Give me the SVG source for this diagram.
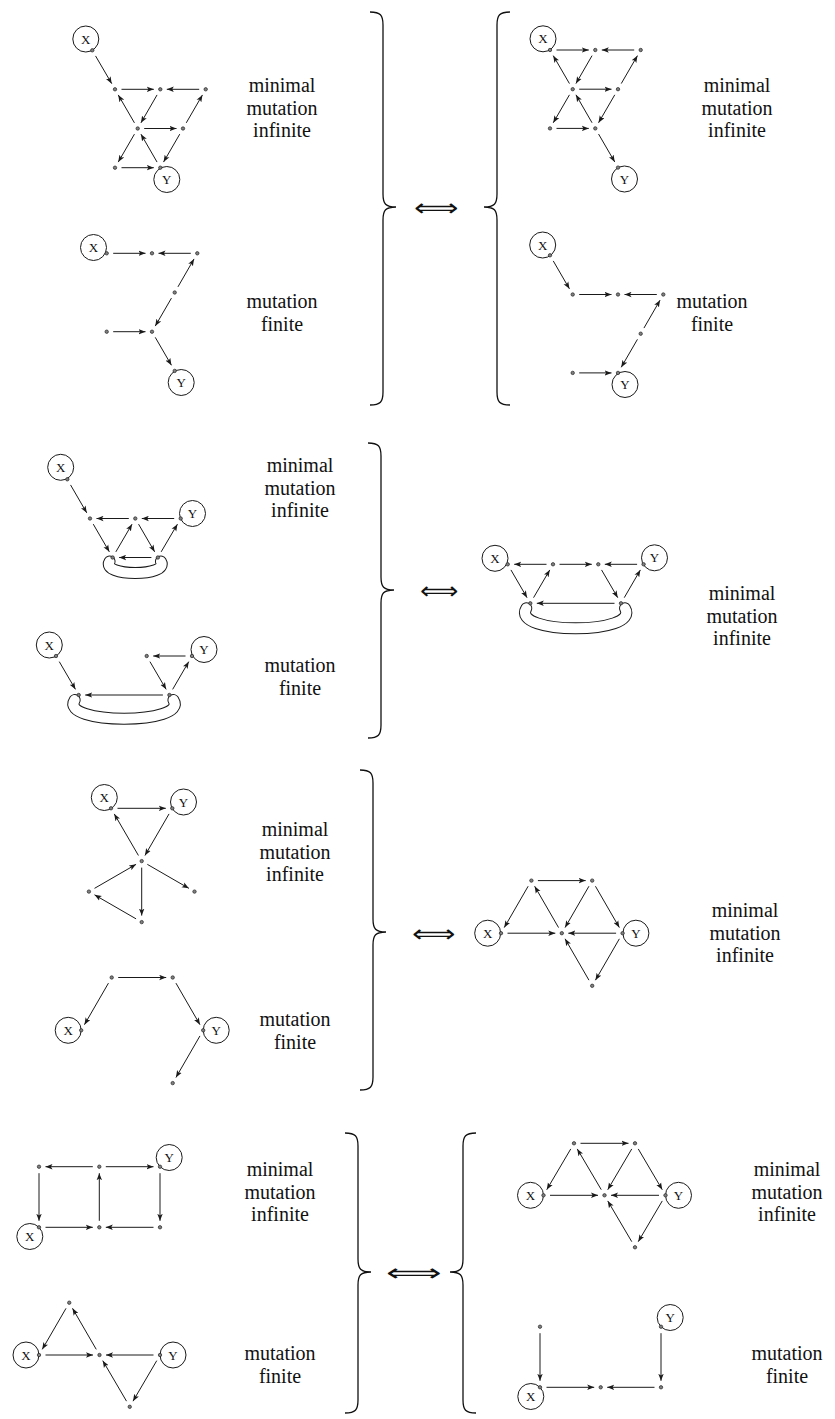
<svg xmlns="http://www.w3.org/2000/svg" width="835" height="1419" viewBox="0 0 835 1419">
<style>
.e{stroke:#1a1a1a;stroke-width:1;fill:none;marker-end:url(#ah)}
.d{fill:#808080;stroke:#222;stroke-width:0.7}
.c{fill:none;stroke:#1a1a1a;stroke-width:1}
.lbl{font-family:'Liberation Serif',serif;font-size:13px;text-anchor:middle;fill:#111}
.t{font-family:'Liberation Serif',serif;font-size:20px;text-anchor:middle;fill:#111}
.br{fill:none;stroke:#111;stroke-width:1.3}
.bo{fill:none;stroke:#1a1a1a;stroke-width:12;stroke-linecap:round}
.bi{fill:none;stroke:#fff;stroke-width:10;stroke-linecap:round}
.arr{font-family:'DejaVu Sans',sans-serif;font-weight:200;font-size:24px;text-anchor:middle;fill:#111}
</style>
<defs>
<marker id="ah" markerWidth="8" markerHeight="6" refX="7" refY="3" orient="auto" markerUnits="userSpaceOnUse"><path d="M0,0.3 L7,3 L0,5.7 L1.6,3 Z" fill="#1a1a1a"/></marker>
</defs>
<rect width="835" height="1419" fill="#fff"/>

<g id="connectors">
<!-- s1a -->
<line class="e" x1="95.55" y1="55.93" x2="111.75" y2="83.67"/>
<line class="e" x1="121.5" y1="89.3" x2="153.8" y2="89.3"/>
<line class="e" x1="199.2" y1="89.3" x2="166.8" y2="89.3"/>
<line class="e" x1="157.05" y1="94.93" x2="140.95" y2="122.87"/>
<line class="e" x1="134.45" y1="122.87" x2="118.25" y2="94.93"/>
<line class="e" x1="144.2" y1="128.5" x2="176.5" y2="128.5"/>
<line class="e" x1="186.25" y1="122.87" x2="202.45" y2="94.93"/>
<line class="e" x1="134.45" y1="134.13" x2="118.25" y2="162.07"/>
<line class="e" x1="121.5" y1="167.7" x2="153.8" y2="167.7"/>
<line class="e" x1="157.05" y1="162.07" x2="140.95" y2="134.13"/>
<line class="e" x1="179.75" y1="134.13" x2="163.55" y2="162.07"/>
<!-- s1b -->
<line class="e" x1="113.2" y1="253.3" x2="145.5" y2="253.3"/>
<line class="e" x1="190.8" y1="253.3" x2="158.5" y2="253.3"/>
<line class="e" x1="177.95" y1="286.87" x2="194.05" y2="258.93"/>
<line class="e" x1="171.45" y1="298.13" x2="155.25" y2="326.07"/>
<line class="e" x1="113.2" y1="331.7" x2="145.5" y2="331.7"/>
<line class="e" x1="155.25" y1="337.33" x2="171.45" y2="365.27"/>
<!-- s1c -->
<line class="e" x1="556.5" y1="50" x2="588.8" y2="50"/>
<line class="e" x1="634.2" y1="50" x2="601.8" y2="50"/>
<line class="e" x1="592.05" y1="55.63" x2="575.95" y2="83.57"/>
<line class="e" x1="569.45" y1="83.57" x2="553.25" y2="55.63"/>
<line class="e" x1="579.2" y1="89.2" x2="611.5" y2="89.2"/>
<line class="e" x1="621.25" y1="83.57" x2="637.45" y2="55.63"/>
<line class="e" x1="569.45" y1="94.83" x2="553.25" y2="122.77"/>
<line class="e" x1="556.5" y1="128.4" x2="588.8" y2="128.4"/>
<line class="e" x1="592.05" y1="122.77" x2="575.95" y2="94.83"/>
<line class="e" x1="614.75" y1="94.83" x2="598.55" y2="122.77"/>
<line class="e" x1="598.55" y1="134.03" x2="614.75" y2="161.97"/>
<!-- s1d -->
<line class="e" x1="553.25" y1="260.93" x2="569.45" y2="288.87"/>
<line class="e" x1="579.2" y1="294.5" x2="611.5" y2="294.5"/>
<line class="e" x1="656.8" y1="294.5" x2="624.5" y2="294.5"/>
<line class="e" x1="643.95" y1="328.07" x2="660.05" y2="300.13"/>
<line class="e" x1="637.45" y1="339.33" x2="621.25" y2="367.27"/>
<line class="e" x1="579.2" y1="372.9" x2="611.5" y2="372.9"/>
<!-- s2a -->
<path class="bo" d="M109.6,561.5 C100.6,576.8 169.9,576.8 160.9,561.5"/>
<path class="bi" d="M109.6,561.5 C100.6,576.8 169.9,576.8 160.9,561.5"/>
<line class="e" x1="70.55" y1="484.93" x2="86.75" y2="512.87"/>
<line class="e" x1="128.8" y1="518.5" x2="96.5" y2="518.5"/>
<line class="e" x1="174.2" y1="518.5" x2="141.8" y2="518.5"/>
<line class="e" x1="93.25" y1="524.13" x2="109.35" y2="551.87"/>
<line class="e" x1="115.85" y1="551.87" x2="132.05" y2="524.13"/>
<line class="e" x1="138.55" y1="524.13" x2="154.65" y2="551.87"/>
<line class="e" x1="161.15" y1="551.87" x2="177.45" y2="524.13"/>
<line class="e" x1="151.4" y1="557.5" x2="119.1" y2="557.5"/>
<!-- s2b -->
<path class="bo" d="M74.7,700 C58.7,725 189.4,725 173.4,700"/>
<path class="bi" d="M74.7,700 C58.7,725 189.4,725 173.4,700"/>
<line class="e" x1="59.25" y1="661.63" x2="75.45" y2="689.37"/>
<line class="e" x1="185.5" y1="656" x2="153.2" y2="656"/>
<line class="e" x1="149.95" y1="661.63" x2="166.15" y2="689.37"/>
<line class="e" x1="172.65" y1="689.37" x2="188.75" y2="661.63"/>
<line class="e" x1="162.9" y1="695" x2="85.2" y2="695"/>
<!-- s2c -->
<path class="bo" d="M526.3,608.3 C510.3,635 641,635 625,608.3"/>
<path class="bi" d="M526.3,608.3 C510.3,635 641,635 625,608.3"/>
<line class="e" x1="546.5" y1="564.3" x2="514.2" y2="564.3"/>
<line class="e" x1="559.5" y1="564.3" x2="591.8" y2="564.3"/>
<line class="e" x1="637.1" y1="564.3" x2="604.8" y2="564.3"/>
<line class="e" x1="510.95" y1="569.93" x2="527.05" y2="597.67"/>
<line class="e" x1="533.55" y1="597.67" x2="549.75" y2="569.93"/>
<line class="e" x1="601.55" y1="569.93" x2="617.75" y2="597.67"/>
<line class="e" x1="624.25" y1="597.67" x2="640.35" y2="569.93"/>
<line class="e" x1="614.5" y1="603.3" x2="536.8" y2="603.3"/>
<!-- s3a -->
<line class="e" x1="117.5" y1="808.3" x2="165.8" y2="808.3"/>
<line class="e" x1="138.43" y1="855.48" x2="114.27" y2="813.92"/>
<line class="e" x1="169.04" y1="813.92" x2="144.96" y2="855.48"/>
<line class="e" x1="94.53" y1="888.35" x2="136.07" y2="864.35"/>
<line class="e" x1="147.33" y1="864.35" x2="188.87" y2="888.35"/>
<line class="e" x1="141.7" y1="867.6" x2="141.7" y2="915.6"/>
<line class="e" x1="136.07" y1="918.85" x2="94.53" y2="894.85"/>
<!-- s3b -->
<line class="e" x1="108.45" y1="983.13" x2="84.45" y2="1024.67"/>
<line class="e" x1="118.2" y1="977.5" x2="166.2" y2="977.5"/>
<line class="e" x1="175.95" y1="983.13" x2="199.95" y2="1024.67"/>
<line class="e" x1="199.95" y1="1035.93" x2="175.95" y2="1077.47"/>
<!-- s3c -->
<line class="e" x1="537.9" y1="880.6" x2="585.7" y2="880.6"/>
<line class="e" x1="528.15" y1="886.23" x2="504.25" y2="927.57"/>
<line class="e" x1="558.55" y1="927.57" x2="534.65" y2="886.23"/>
<line class="e" x1="588.95" y1="886.23" x2="565.05" y2="927.57"/>
<line class="e" x1="595.45" y1="886.23" x2="619.35" y2="927.57"/>
<line class="e" x1="507.5" y1="933.2" x2="555.3" y2="933.2"/>
<line class="e" x1="616.1" y1="933.2" x2="568.3" y2="933.2"/>
<line class="e" x1="619.35" y1="938.83" x2="595.45" y2="980.17"/>
<line class="e" x1="588.95" y1="980.17" x2="565.05" y2="938.83"/>
<!-- s4a -->
<line class="e" x1="92.8" y1="1166.7" x2="45.5" y2="1166.7"/>
<line class="e" x1="105.8" y1="1166.7" x2="153.5" y2="1166.7"/>
<line class="e" x1="39" y1="1173.2" x2="39" y2="1220.8"/>
<line class="e" x1="99.3" y1="1220.8" x2="99.3" y2="1173.2"/>
<line class="e" x1="160" y1="1173.2" x2="160" y2="1220.8"/>
<line class="e" x1="45.5" y1="1227.3" x2="92.8" y2="1227.3"/>
<line class="e" x1="153.5" y1="1227.3" x2="105.8" y2="1227.3"/>
<!-- s4b -->
<line class="e" x1="66" y1="1308.33" x2="42.25" y2="1349.37"/>
<line class="e" x1="96.25" y1="1349.37" x2="72.5" y2="1308.33"/>
<line class="e" x1="45.5" y1="1355" x2="93" y2="1355"/>
<line class="e" x1="153.5" y1="1355" x2="106" y2="1355"/>
<line class="e" x1="156.75" y1="1360.63" x2="133" y2="1401.17"/>
<line class="e" x1="126.5" y1="1401.17" x2="102.75" y2="1360.63"/>
<!-- s4c -->
<line class="e" x1="580.5" y1="1143.3" x2="628.5" y2="1143.3"/>
<line class="e" x1="570.75" y1="1148.93" x2="546.75" y2="1189.67"/>
<line class="e" x1="601.25" y1="1189.67" x2="577.25" y2="1148.93"/>
<line class="e" x1="631.75" y1="1148.93" x2="607.75" y2="1189.67"/>
<line class="e" x1="638.25" y1="1148.93" x2="662.25" y2="1189.67"/>
<line class="e" x1="550" y1="1195.3" x2="598" y2="1195.3"/>
<line class="e" x1="659" y1="1195.3" x2="611" y2="1195.3"/>
<line class="e" x1="662.25" y1="1200.93" x2="638.25" y2="1241.67"/>
<line class="e" x1="631.75" y1="1241.67" x2="607.75" y2="1200.93"/>
<!-- s4d -->
<line class="e" x1="540" y1="1333.2" x2="540" y2="1380.8"/>
<line class="e" x1="661" y1="1333.2" x2="661" y2="1380.8"/>
<line class="e" x1="546.5" y1="1387.3" x2="594.2" y2="1387.3"/>
<line class="e" x1="654.5" y1="1387.3" x2="607.2" y2="1387.3"/>
</g>

<!-- Section 1 left upper -->
<g id="s1a-X"><circle class="c" cx="85.8" cy="39" r="13"/><text class="lbl" x="85.8" y="43.5">X</text><circle class="d" cx="92.3" cy="50.3" r="1.7"/></g>
<g id="s1a-A"><circle class="d" cx="115" cy="89.3" r="1.7"/></g>
<g id="s1a-B"><circle class="d" cx="160.3" cy="89.3" r="1.7"/></g>
<g id="s1a-C"><circle class="d" cx="205.7" cy="89.3" r="1.7"/></g>
<g id="s1a-D"><circle class="d" cx="137.7" cy="128.5" r="1.7"/></g>
<g id="s1a-E"><circle class="d" cx="183" cy="128.5" r="1.7"/></g>
<g id="s1a-F"><circle class="d" cx="115" cy="167.7" r="1.7"/></g>
<g id="s1a-Y"><circle class="c" cx="166.8" cy="179.5" r="13"/><text class="lbl" x="166.8" y="184">Y</text><circle class="d" cx="160.3" cy="167.7" r="1.7"/></g>

<!-- Section 1 left lower -->
<g id="s1b-X"><circle class="c" cx="93.5" cy="247.5" r="13"/><text class="lbl" x="93.5" y="252">X</text><circle class="d" cx="106.7" cy="253.3" r="1.7"/></g>
<g id="s1b-B"><circle class="d" cx="152" cy="253.3" r="1.7"/></g>
<g id="s1b-C"><circle class="d" cx="197.3" cy="253.3" r="1.7"/></g>
<g id="s1b-D"><circle class="d" cx="174.7" cy="292.5" r="1.7"/></g>
<g id="s1b-E"><circle class="d" cx="106.7" cy="331.7" r="1.7"/></g>
<g id="s1b-F"><circle class="d" cx="152" cy="331.7" r="1.7"/></g>
<g id="s1b-Y"><circle class="c" cx="181.2" cy="382.5" r="13"/><text class="lbl" x="181.2" y="387">Y</text><circle class="d" cx="174.7" cy="370.9" r="1.7"/></g>

<!-- Section 1 right upper -->
<g id="s1c-X"><circle class="c" cx="543" cy="38.8" r="13"/><text class="lbl" x="543" y="43.3">X</text><circle class="d" cx="550" cy="50" r="1.7"/></g>
<g id="s1c-B"><circle class="d" cx="595.3" cy="50" r="1.7"/></g>
<g id="s1c-C"><circle class="d" cx="640.7" cy="50" r="1.7"/></g>
<g id="s1c-D"><circle class="d" cx="572.7" cy="89.2" r="1.7"/></g>
<g id="s1c-E"><circle class="d" cx="618" cy="89.2" r="1.7"/></g>
<g id="s1c-F"><circle class="d" cx="550" cy="128.4" r="1.7"/></g>
<g id="s1c-G"><circle class="d" cx="595.3" cy="128.4" r="1.7"/></g>
<g id="s1c-Y"><circle class="c" cx="624.5" cy="179" r="13"/><text class="lbl" x="624.5" y="183.5">Y</text><circle class="d" cx="618" cy="167.6" r="1.7"/></g>

<!-- Section 1 right lower -->
<g id="s1d-X"><circle class="c" cx="542.7" cy="245" r="13"/><text class="lbl" x="542.7" y="249.5">X</text><circle class="d" cx="550" cy="255.3" r="1.7"/></g>
<g id="s1d-A"><circle class="d" cx="572.7" cy="294.5" r="1.7"/></g>
<g id="s1d-B"><circle class="d" cx="618" cy="294.5" r="1.7"/></g>
<g id="s1d-C"><circle class="d" cx="663.3" cy="294.5" r="1.7"/></g>
<g id="s1d-D"><circle class="d" cx="640.7" cy="333.7" r="1.7"/></g>
<g id="s1d-E"><circle class="d" cx="572.7" cy="372.9" r="1.7"/></g>
<g id="s1d-Y"><circle class="c" cx="625" cy="384.5" r="13"/><text class="lbl" x="625" y="389">Y</text><circle class="d" cx="618" cy="372.9" r="1.7"/></g>

<!-- Section 2 left upper -->
<g id="s2a-X"><circle class="c" cx="60.7" cy="467.3" r="13"/><text class="lbl" x="60.7" y="471.8">X</text><circle class="d" cx="67.3" cy="479.3" r="1.7"/></g>
<g id="s2a-A"><circle class="d" cx="90" cy="518.5" r="1.7"/></g>
<g id="s2a-B"><circle class="d" cx="135.3" cy="518.5" r="1.7"/></g>
<g id="s2a-C"><circle class="d" cx="112.6" cy="557.5" r="1.7"/></g>
<g id="s2a-D"><circle class="d" cx="157.9" cy="557.5" r="1.7"/></g>
<g id="s2a-Y"><circle class="c" cx="192.5" cy="513.5" r="13"/><text class="lbl" x="192.5" y="518">Y</text><circle class="d" cx="180.7" cy="518.5" r="1.7"/></g>

<!-- Section 2 left lower -->
<g id="s2b-X"><circle class="c" cx="49.3" cy="645" r="13"/><text class="lbl" x="49.3" y="649.5">X</text><circle class="d" cx="56" cy="656" r="1.7"/></g>
<g id="s2b-A"><circle class="d" cx="146.7" cy="656" r="1.7"/></g>
<g id="s2b-C"><circle class="d" cx="78.7" cy="695" r="1.7"/></g>
<g id="s2b-D"><circle class="d" cx="169.4" cy="695" r="1.7"/></g>
<g id="s2b-Y"><circle class="c" cx="204" cy="649.5" r="13"/><text class="lbl" x="204" y="654">Y</text><circle class="d" cx="192" cy="656" r="1.7"/></g>

<!-- Section 2 right -->
<g id="s2c-X"><circle class="c" cx="495" cy="558.3" r="13"/><text class="lbl" x="495" y="562.8">X</text><circle class="d" cx="507.7" cy="564.3" r="1.7"/></g>
<g id="s2c-A"><circle class="d" cx="553" cy="564.3" r="1.7"/></g>
<g id="s2c-B"><circle class="d" cx="598.3" cy="564.3" r="1.7"/></g>
<g id="s2c-C"><circle class="d" cx="530.3" cy="603.3" r="1.7"/></g>
<g id="s2c-D"><circle class="d" cx="621" cy="603.3" r="1.7"/></g>
<g id="s2c-Y"><circle class="c" cx="654.5" cy="557.8" r="13"/><text class="lbl" x="654.5" y="562.3">Y</text><circle class="d" cx="643.6" cy="564.3" r="1.7"/></g>

<!-- Section 3 left upper -->
<g id="s3a-X"><circle class="c" cx="104.3" cy="797.5" r="13"/><text class="lbl" x="104.3" y="802">X</text><circle class="d" cx="111" cy="808.3" r="1.7"/></g>
<g id="s3a-Y"><circle class="c" cx="183.5" cy="802" r="13"/><text class="lbl" x="183.5" y="806.5">Y</text><circle class="d" cx="172.3" cy="808.3" r="1.7"/></g>
<g id="s3a-O"><circle class="d" cx="141.7" cy="861.1" r="1.7"/></g>
<g id="s3a-L"><circle class="d" cx="88.9" cy="891.6" r="1.7"/></g>
<g id="s3a-R"><circle class="d" cx="194.5" cy="891.6" r="1.7"/></g>
<g id="s3a-B"><circle class="d" cx="141.7" cy="922.1" r="1.7"/></g>

<!-- Section 3 left lower -->
<g id="s3b-A"><circle class="d" cx="111.7" cy="977.5" r="1.7"/></g>
<g id="s3b-B"><circle class="d" cx="172.7" cy="977.5" r="1.7"/></g>
<g id="s3b-X"><circle class="c" cx="68.2" cy="1030.3" r="13"/><text class="lbl" x="68.2" y="1034.8">X</text><circle class="d" cx="81.2" cy="1030.3" r="1.7"/></g>
<g id="s3b-Y"><circle class="c" cx="216.2" cy="1030.3" r="13"/><text class="lbl" x="216.2" y="1034.8">Y</text><circle class="d" cx="203.2" cy="1030.3" r="1.7"/></g>
<g id="s3b-C"><circle class="d" cx="172.7" cy="1083.1" r="1.7"/></g>

<!-- Section 3 right -->
<g id="s3c-A"><circle class="d" cx="531.4" cy="880.6" r="1.7"/></g>
<g id="s3c-B"><circle class="d" cx="592.2" cy="880.6" r="1.7"/></g>
<g id="s3c-X"><circle class="c" cx="487.7" cy="933.2" r="13"/><text class="lbl" x="487.7" y="937.7">X</text><circle class="d" cx="501" cy="933.2" r="1.7"/></g>
<g id="s3c-O"><circle class="d" cx="561.8" cy="933.2" r="1.7"/></g>
<g id="s3c-Y"><circle class="c" cx="635.9" cy="933.2" r="13"/><text class="lbl" x="635.9" y="937.7">Y</text><circle class="d" cx="622.6" cy="933.2" r="1.7"/></g>
<g id="s3c-Bot"><circle class="d" cx="592.2" cy="985.8" r="1.7"/></g>

<!-- Section 4 left upper -->
<g id="s4a-A"><circle class="d" cx="39" cy="1166.7" r="1.7"/></g>
<g id="s4a-B"><circle class="d" cx="99.3" cy="1166.7" r="1.7"/></g>
<g id="s4a-Y"><circle class="c" cx="169.2" cy="1157.5" r="13"/><text class="lbl" x="169.2" y="1162">Y</text><circle class="d" cx="160" cy="1166.7" r="1.7"/></g>
<g id="s4a-X"><circle class="c" cx="29.8" cy="1236.5" r="13"/><text class="lbl" x="29.8" y="1241">X</text><circle class="d" cx="39" cy="1227.3" r="1.7"/></g>
<g id="s4a-E"><circle class="d" cx="99.3" cy="1227.3" r="1.7"/></g>
<g id="s4a-F"><circle class="d" cx="160" cy="1227.3" r="1.7"/></g>

<!-- Section 4 left lower -->
<g id="s4b-T"><circle class="d" cx="69.25" cy="1302.7" r="1.7"/></g>
<g id="s4b-X"><circle class="c" cx="26" cy="1355" r="13"/><text class="lbl" x="26" y="1359.5">X</text><circle class="d" cx="39" cy="1355" r="1.7"/></g>
<g id="s4b-O"><circle class="d" cx="99.5" cy="1355" r="1.7"/></g>
<g id="s4b-Y"><circle class="c" cx="173" cy="1355" r="13"/><text class="lbl" x="173" y="1359.5">Y</text><circle class="d" cx="160" cy="1355" r="1.7"/></g>
<g id="s4b-Bot"><circle class="d" cx="129.75" cy="1406.8" r="1.7"/></g>

<!-- Section 4 right upper -->
<g id="s4c-A"><circle class="d" cx="574" cy="1143.3" r="1.7"/></g>
<g id="s4c-B"><circle class="d" cx="635" cy="1143.3" r="1.7"/></g>
<g id="s4c-X"><circle class="c" cx="530.5" cy="1195.3" r="13"/><text class="lbl" x="530.5" y="1199.8">X</text><circle class="d" cx="543.5" cy="1195.3" r="1.7"/></g>
<g id="s4c-O"><circle class="d" cx="604.5" cy="1195.3" r="1.7"/></g>
<g id="s4c-Y"><circle class="c" cx="678.5" cy="1195.3" r="13"/><text class="lbl" x="678.5" y="1199.8">Y</text><circle class="d" cx="665.5" cy="1195.3" r="1.7"/></g>
<g id="s4c-Bot"><circle class="d" cx="635" cy="1247.3" r="1.7"/></g>

<!-- Section 4 right lower -->
<g id="s4d-T"><circle class="d" cx="540" cy="1326.7" r="1.7"/></g>
<g id="s4d-Y"><circle class="c" cx="670.2" cy="1317.5" r="13"/><text class="lbl" x="670.2" y="1322">Y</text><circle class="d" cx="661" cy="1326.7" r="1.7"/></g>
<g id="s4d-X"><circle class="c" cx="530.8" cy="1396.5" r="13"/><text class="lbl" x="530.8" y="1401">X</text><circle class="d" cx="540" cy="1387.3" r="1.7"/></g>
<g id="s4d-M"><circle class="d" cx="600.7" cy="1387.3" r="1.7"/></g>
<g id="s4d-R"><circle class="d" cx="661" cy="1387.3" r="1.7"/></g>

<!-- Braces -->
<g id="braces">
<path class="br" d="M370,12 C380.4,12 383,15 383,25 L383,194 C383,204 385.6,207 396,207 C385.6,207 383,210 383,220 L383,392 C383,402 380.4,405 370,405"/>
<path class="br" d="M510,12 C499.6,12 497,15 497,25 L497,194 C497,204 494.4,207 484,207 C494.4,207 497,210 497,220 L497,392 C497,402 499.6,405 510,405"/>
<path class="br" d="M368,443 C378.4,443 381,446 381,456 L381,577 C381,587 383.6,590 394,590 C383.6,590 381,593 381,603 L381,725 C381,735 378.4,738 368,738"/>
<path class="br" d="M360,770 C370.4,770 373,773 373,783 L373,919 C373,929 375.6,932 386,932 C375.6,932 373,935 373,945 L373,1077 C373,1087 370.4,1090 360,1090"/>
<path class="br" d="M345,1133 C355.4,1133 358,1136 358,1146 L358,1259 C358,1269 360.6,1272 371,1272 C360.6,1272 358,1275 358,1285 L358,1400 C358,1410 355.4,1413 345,1413"/>
<path class="br" d="M476,1133 C465.6,1133 463,1136 463,1146 L463,1259 C463,1269 460.4,1272 450,1272 C460.4,1272 463,1275 463,1285 L463,1400 C463,1410 465.6,1413 476,1413"/>
</g>

<!-- Equivalence arrows -->
<g id="equiv">
<text class="arr" x="435.5" y="215.5" textLength="44" lengthAdjust="spacingAndGlyphs">⟺</text>
<text class="arr" x="439" y="598.5" textLength="38" lengthAdjust="spacingAndGlyphs">⟺</text>
<text class="arr" x="433" y="941.5" textLength="43" lengthAdjust="spacingAndGlyphs">⟺</text>
<text class="arr" x="413.5" y="1280.5" textLength="55" lengthAdjust="spacingAndGlyphs">⟺</text>
</g>

<!-- Labels -->
<g id="labels">
<text class="t" x="282" y="92">minimal</text><text class="t" x="282" y="114.5">mutation</text><text class="t" x="282" y="137">infinite</text>
<text class="t" x="282" y="308">mutation</text><text class="t" x="282" y="331">finite</text>
<text class="t" x="737" y="92">minimal</text><text class="t" x="737" y="114.5">mutation</text><text class="t" x="737" y="137">infinite</text>
<text class="t" x="712" y="308">mutation</text><text class="t" x="712" y="331">finite</text>
<text class="t" x="300" y="472">minimal</text><text class="t" x="300" y="494.5">mutation</text><text class="t" x="300" y="517">infinite</text>
<text class="t" x="300" y="672">mutation</text><text class="t" x="300" y="694.5">finite</text>
<text class="t" x="742" y="600">minimal</text><text class="t" x="742" y="622.5">mutation</text><text class="t" x="742" y="645">infinite</text>
<text class="t" x="295" y="836">minimal</text><text class="t" x="295" y="858.5">mutation</text><text class="t" x="295" y="881">infinite</text>
<text class="t" x="295" y="1026">mutation</text><text class="t" x="295" y="1049">finite</text>
<text class="t" x="745" y="917">minimal</text><text class="t" x="745" y="939.5">mutation</text><text class="t" x="745" y="962">infinite</text>
<text class="t" x="280" y="1176">minimal</text><text class="t" x="280" y="1198.5">mutation</text><text class="t" x="280" y="1221">infinite</text>
<text class="t" x="280" y="1360">mutation</text><text class="t" x="280" y="1383">finite</text>
<text class="t" x="787" y="1176">minimal</text><text class="t" x="787" y="1198.5">mutation</text><text class="t" x="787" y="1221">infinite</text>
<text class="t" x="787" y="1360">mutation</text><text class="t" x="787" y="1383">finite</text>
</g>
</svg>
